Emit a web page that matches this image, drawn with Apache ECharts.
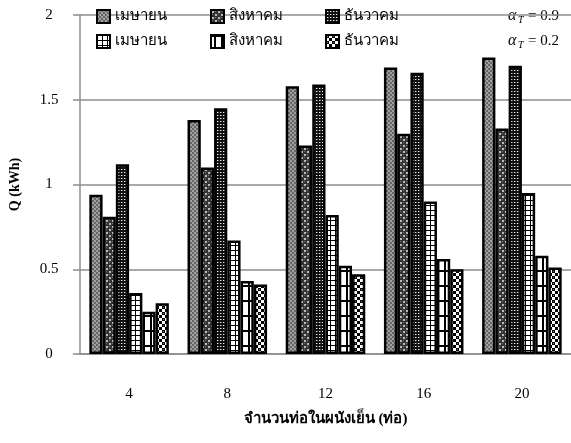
<!DOCTYPE html>
<html><head><meta charset="utf-8">
<script src="https://cdn.jsdelivr.net/npm/echarts@6/dist/echarts.min.js"></script>
<style>html,body{margin:0;padding:0;background:#fff}#c{width:571px;height:443px}</style>
</head><body><div id="c"></div>
<script>
const categories = ['4', '8', '12', '16', '20'];
const seriesNames = ['เมษายน', 'สิงหาคม', 'ธันวาคม', 'เมษายน\u200B', 'สิงหาคม\u200B', 'ธันวาคม\u200B'];
const aprHigh = [0.94, 1.38, 1.58, 1.69, 1.75];
const augHigh = [0.81, 1.10, 1.23, 1.30, 1.33];
const decHigh = [1.12, 1.45, 1.59, 1.66, 1.70];
const aprLow = [0.36, 0.67, 0.82, 0.90, 0.95];
const augLow = [0.25, 0.43, 0.52, 0.56, 0.58];
const decLow = [0.30, 0.41, 0.47, 0.50, 0.51];
const yTicks = [0, 0.5, 1, 1.5, 2];
const alphaLabels = ['0.9', '0.2'];

function pat(w, h, draw) {
  const c = document.createElement('canvas');
  c.width = w; c.height = h;
  const g = c.getContext('2d');
  g.fillStyle = '#ffffff'; g.fillRect(0, 0, w, h);
  draw(g);
  return { image: c, repeat: 'repeat' };
}
const patterns = [
  pat(4, 4, g => { g.fillStyle = '#a0a0a0'; g.fillRect(0,0,4,4); g.fillStyle = '#666'; g.fillRect(0,0,2,2); g.fillRect(2,2,2,2); }),
  pat(6, 6, g => { g.fillStyle = '#333'; g.fillRect(0,0,6,6); g.fillStyle = '#bbb'; g.fillRect(1,1,2,2); g.fillRect(4,4,2,2); g.fillStyle = '#777'; g.fillRect(4,1,1,1); g.fillRect(1,4,1,1); }),
  pat(3, 3, g => { g.fillStyle = '#111'; g.fillRect(0,0,3,3); g.fillStyle = '#eee'; g.fillRect(1,1,1,1); g.fillStyle='#666'; g.fillRect(2,1,1,1); }),
  pat(5, 5, g => { g.fillStyle = '#000'; g.fillRect(0,0,5,1); g.fillRect(0,0,1,5); }),
  pat(7, 15, g => { g.fillStyle = '#000'; g.fillRect(0,0,7,2); g.fillRect(3,0,2,15); }),
  pat(6, 6, g => { g.fillStyle = '#000'; g.fillRect(0,0,3,3); g.fillRect(3,3,3,3); g.fillStyle='#777'; g.fillRect(1,1,1,1); })
];
const values = [aprHigh, augHigh, decHigh, aprLow, augLow, decLow];

const serif = '"Liberation Serif","DejaVu Serif",serif';
const legendX = [96, 210, 325];
const legendY = [9, 34];
const legends = seriesNames.map((n, i) => ({
  data: [n],
  left: legendX[i % 3],
  top: legendY[Math.floor(i / 3)],
  itemWidth: 13, itemHeight: 13, itemGap: 0,
  icon: 'rect',
  selectedMode: false,
  padding: 0,
  itemStyle: { borderColor: '#000', borderWidth: 2 },
  textStyle: { fontFamily: serif, fontSize: 15, color: '#000' }
}));

const chart = echarts.init(document.getElementById('c'), null, { renderer: 'canvas' });
chart.setOption({
  animation: false,
  backgroundColor: '#fff',
  legend: legends,
  grid: { left: 77, top: 15, width: 502, height: 339, containLabel: false },
  xAxis: {
    type: 'category', data: categories,
    axisLine: { lineStyle: { color: '#8c8c8c', width: 1.5 } },
    axisTick: { show: false },
    axisLabel: { margin: 33, fontFamily: serif, fontSize: 15, color: '#000' },
    name: 'จำนวนท่อในผนังเย็น (ท่อ)', nameLocation: 'middle', nameGap: 58,
    nameTextStyle: { fontFamily: serif, fontSize: 15, fontWeight: 'bold', color: '#000' }
  },
  yAxis: {
    type: 'value', min: yTicks[0], max: yTicks[yTicks.length - 1], interval: 0.5,
    axisLine: { show: true, lineStyle: { color: '#8c8c8c', width: 1.5 } },
    axisTick: { show: true, length: 7, lineStyle: { color: '#8c8c8c', width: 1.5 } },
    splitLine: { lineStyle: { color: '#8c8c8c', width: 1.5 } },
    axisLabel: { margin: 31, align: 'center', fontFamily: serif, fontSize: 15, color: '#000' },
    name: 'Q (kWh)', nameLocation: 'middle', nameGap: 58, nameRotate: 90,
    nameTextStyle: { fontFamily: serif, fontSize: 14, fontWeight: 'bold', color: '#000' }
  },
  series: seriesNames.map((n, i) => ({
    type: 'bar', name: n, data: values[i],
    barGap: '0%', barCategoryGap: '19%',
    itemStyle: { color: patterns[i], borderColor: '#000', borderWidth: 2.5 }
  })),
  graphic: alphaLabels.map((v, i) => ({
    type: 'group', left: 508, top: 8 + i * 25,
    children: [
      { type: 'text', x: 0, y: 0, style: { text: 'α', font: 'italic 16px ' + serif, fill: '#000' } },
      { type: 'text', x: 10, y: 7, style: { text: 'T', font: 'italic 10px ' + serif, fill: '#000' } },
      { type: 'text', x: 20, y: 1, style: { text: '= ' + v, font: '15px ' + serif, fill: '#000' } }
    ]
  }))
});
</script></body></html>
